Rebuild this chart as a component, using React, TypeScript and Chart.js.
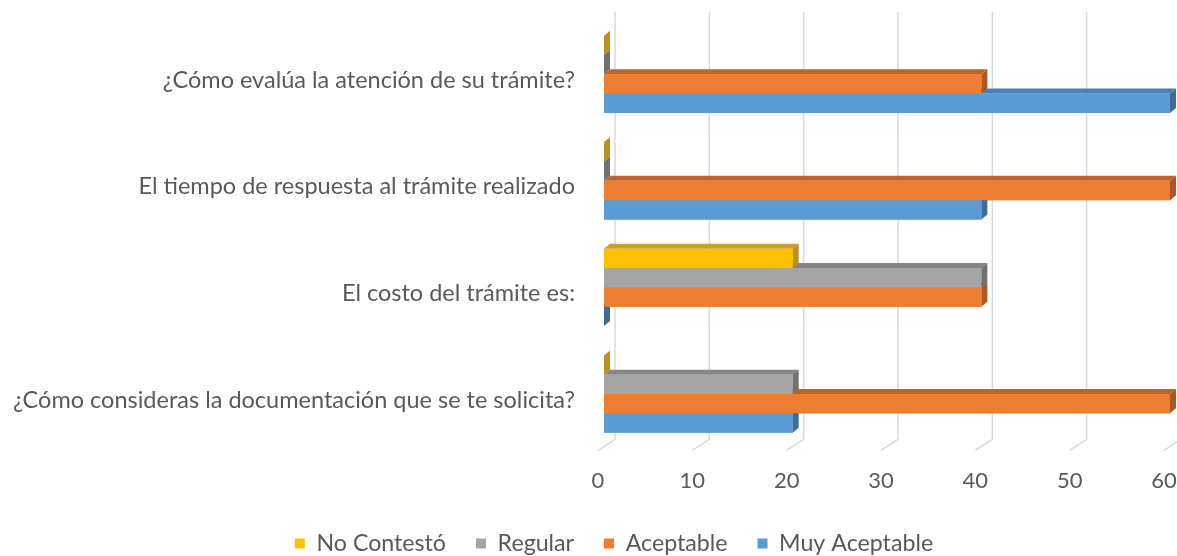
import React, { useEffect, useRef } from "react";
import { Chart, registerables } from "chart.js";

Chart.register(...registerables);

const categories = [
  "¿Cómo evalúa la atención de su trámite?",
  "El tiempo de respuesta al trámite realizado",
  "El costo del trámite es:",
  "¿Cómo consideras la documentación que se te solicita?",
];
const seriesNames = ["No Contestó", "Regular", "Aceptable", "Muy Aceptable"];
const noContesto = [0, 0, 20, 0];
const regular = [0, 0, 40, 20];
const aceptable = [40, 60, 40, 60];
const muyAceptable = [60, 40, 0, 20];
const xTicks = [0, 10, 20, 30, 40, 50, 60];

const frontColors = ["#FFC000", "#A5A5A5", "#ED7D31", "#5B9BD5"];
const topColors = ["#C9A02E", "#858585", "#C0632A", "#4A80B4"];
const sideColors = ["#B8901F", "#707070", "#AD5724", "#3D6C99"];

const DX = 6;
const DY = -5;
const LEGEND_SHIFT = 29;
const TEXT = "#595959";
const FONT = "Lato, 'Open Sans', sans-serif";

const depthPlugin = {
  id: "depth3d",
  afterLayout(chart: any) {
    if (chart.legend) {
      chart.legend.left += LEGEND_SHIFT;
      chart.legend.right += LEGEND_SHIFT;
    }
  },
  beforeDatasetsDraw(chart: any) {
    const { ctx, chartArea, scales } = chart;
    const x = scales.x;
    ctx.save();
    ctx.strokeStyle = "#D9D9D9";
    ctx.lineWidth = 1.5;
    for (const v of xTicks) {
      const px = x.getPixelForValue(v);
      ctx.beginPath();
      ctx.moveTo(px + 11, chartArea.top - 9);
      ctx.lineTo(px + 11, chartArea.bottom - 8);
      ctx.lineTo(px - 6, chartArea.bottom + 3);
      ctx.stroke();
    }
    ctx.restore();
  },
  afterDatasetsDraw(chart: any) {
    const { ctx } = chart;
    const n = chart.data.labels.length;
    const dsCount = chart.data.datasets.length;
    ctx.save();
    for (let i = 0; i < n; i++) {
      for (let d = dsCount - 1; d >= 0; d--) {
        const meta = chart.getDatasetMeta(d);
        const el: any = meta.data[i];
        if (!el) continue;
        const { x, y, base, height } = el.getProps(["x", "y", "base", "height"], true);
        const left = Math.min(x, base);
        const right = Math.max(x, base);
        const top = y - height / 2;
        const bottom = y + height / 2;
        if (right - left > 0.5) {
          ctx.fillStyle = topColors[d];
          ctx.beginPath();
          ctx.moveTo(left, top);
          ctx.lineTo(right, top);
          ctx.lineTo(right + DX, top + DY);
          ctx.lineTo(left + DX, top + DY);
          ctx.closePath();
          ctx.fill();
        }
        ctx.fillStyle = sideColors[d];
        ctx.beginPath();
        ctx.moveTo(right, top);
        ctx.lineTo(right + DX, top + DY);
        ctx.lineTo(right + DX, bottom + DY);
        ctx.lineTo(right, bottom);
        ctx.closePath();
        ctx.fill();
        if (right - left > 0.5) {
          ctx.fillStyle = frontColors[d];
          ctx.fillRect(left, top, right - left, bottom - top);
        }
      }
    }
    ctx.restore();
  },
};

export default function App() {
  const ref = useRef<HTMLCanvasElement>(null);
  useEffect(() => {
    document.body.style.margin = "0";
    const values = [noContesto, regular, aceptable, muyAceptable];
    const chart = new Chart(ref.current!, {
      type: "bar",
      data: {
        labels: categories,
        datasets: seriesNames.map((name, i) => ({
          label: name,
          data: values[i],
          backgroundColor: frontColors[i],
          borderWidth: 0,
          barPercentage: 1,
          categoryPercentage: 0.725,
        })),
      },
      options: {
        indexAxis: "y",
        animation: false,
        responsive: true,
        maintainAspectRatio: false,
        layout: { padding: { top: 21, right: 7, left: 0, bottom: -9 } },
        plugins: {
          legend: {
            position: "bottom",
            labels: {
              boxWidth: 10,
              boxHeight: 10,
              padding: 30,
              color: TEXT,
              font: { family: FONT, size: 23.2 },
            },
          },
          tooltip: { enabled: false },
        },
        scales: {
          x: {
            min: 0,
            max: 60,
            ticks: {
              stepSize: 10,
              color: TEXT,
              font: { family: FONT, size: 22 },
              labelOffset: -6,
              padding: 20,
            },
            grid: { display: false, drawTicks: false },
            border: { display: false },
            afterFit: (scale: any) => {
              scale.height = 54.5;
              scale.paddingLeft = 0;
              scale.paddingRight = 0;
            },
          },
          y: {
            ticks: {
              color: TEXT,
              font: { family: FONT, size: 23.5 },
              padding: 29,
              labelOffset: 6,
            },
            grid: { display: false, drawTicks: false },
            border: { display: false },
            afterFit: (scale: any) => {
              scale.width = 604;
              scale.paddingTop = 0;
              scale.paddingBottom = 0;
            },
          },
        },
      },
      plugins: [depthPlugin],
    });
    return () => chart.destroy();
  }, []);
  return (
    <div style={{ width: 1177, height: 556, position: "relative" }}>
      <canvas ref={ref} />
    </div>
  );
}
